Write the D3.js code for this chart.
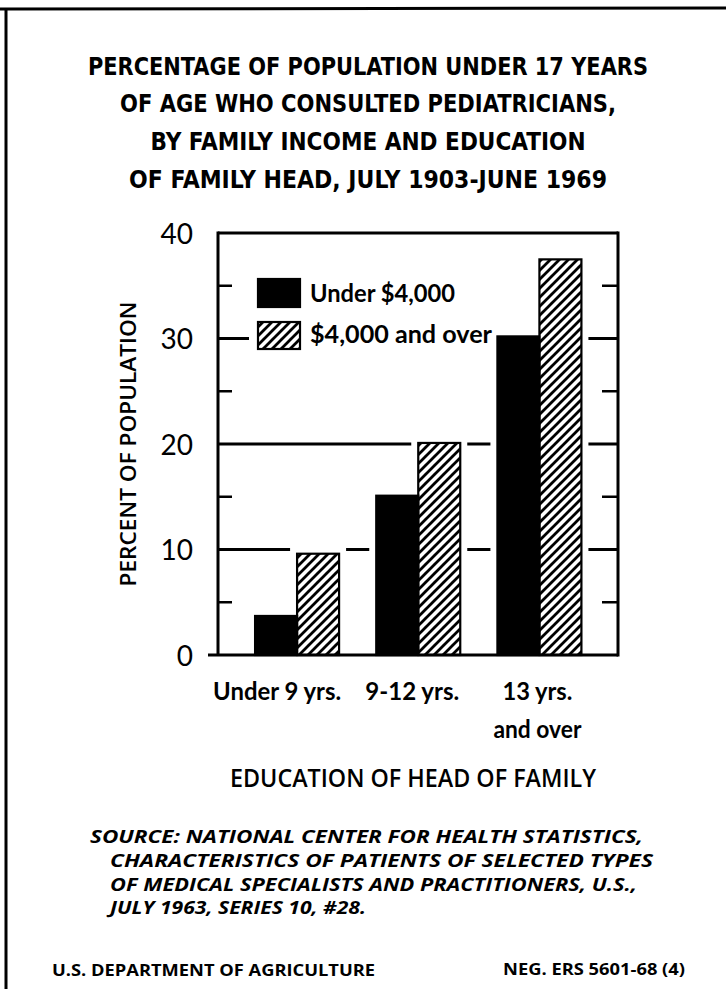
<!DOCTYPE html>
<html>
<head>
<meta charset="utf-8">
<script src="https://cdn.jsdelivr.net/npm/d3@7"></script>
<style>
  html, body { margin: 0; padding: 0; background: #fff; }
  svg { display: block; }
</style>
</head>
<body>
<script>
// ---------------- DATA ----------------
const categories = ["Under 9 yrs.", "9-12 yrs.", "13 yrs.|and over"];
const seriesNames = ["Under $4,000", "$4,000 and over"];
const under4000 = [3.7, 15.1, 30.2];
const over4000 = [9.6, 20.1, 37.5];
const majorTicks = [0, 10, 20, 30, 40];
const minorTicks = [5, 15, 25, 35];
const titleLines = [
  "PERCENTAGE OF POPULATION UNDER 17 YEARS",
  "OF AGE WHO CONSULTED PEDIATRICIANS,",
  "BY FAMILY INCOME AND EDUCATION",
  "OF FAMILY HEAD, JULY 1903-JUNE 1969"
];
const yAxisTitle = "PERCENT OF POPULATION";
const xAxisTitle = "EDUCATION OF HEAD OF FAMILY";
const sourceLines = [
  "SOURCE:  NATIONAL CENTER FOR HEALTH STATISTICS,",
  "CHARACTERISTICS OF PATIENTS OF SELECTED TYPES",
  "OF MEDICAL SPECIALISTS AND PRACTITIONERS, U.S.,",
  "JULY 1963, SERIES 10, #28."
];
const footerLeft = "U.S. DEPARTMENT OF AGRICULTURE";
const footerRight = "NEG. ERS 5601-68 (4)";

// ---------------- LAYOUT ----------------
const W = 726, H = 989;
const plot = { left: 218, right: 618, top: 233, bottom: 655 };

const svg = d3.select("body").append("svg")
  .attr("width", W).attr("height", H);

const defs = svg.append("defs");
defs.append("pattern")
  .attr("id", "hatch")
  .attr("patternUnits", "userSpaceOnUse")
  .attr("width", 9).attr("height", 9)
  .append("path")
  .attr("d", "M-2,2 l4,-4 M0,9 l9,-9 M7,11 l4,-4")
  .attr("stroke", "#000").attr("stroke-width", 2.8);

// page border (top and left)
svg.append("line").attr("x1", 0).attr("x2", W).attr("y1", 9).attr("y2", 8)
  .attr("stroke", "#000").attr("stroke-width", 3);
svg.append("line").attr("x1", 6).attr("x2", 6).attr("y1", 8).attr("y2", H)
  .attr("stroke", "#000").attr("stroke-width", 3);

// ---------------- TITLE ----------------
const titleWidths = [560, 496, 435, 478];
const titleBase = [75, 112, 150, 188];
svg.append("g").selectAll("text").data(titleLines).join("text")
  .attr("x", 368).attr("y", (d, i) => titleBase[i])
  .attr("text-anchor", "middle")
  .attr("font-family", "'DejaVu Sans Condensed', 'Liberation Sans Narrow', sans-serif")
  .attr("font-weight", "bold")
  .attr("font-size", 25)
  .attr("textLength", (d, i) => titleWidths[i])
  .attr("lengthAdjust", "spacingAndGlyphs")
  .text(d => d);

// ---------------- SCALES ----------------
const y = d3.scaleLinear().domain([0, 40]).range([plot.bottom, plot.top]);
const x0 = d3.scaleBand().domain(categories).range([236.5, 600]).paddingInner(0).paddingOuter(0);
const barW = 42;
const x1 = d3.scaleBand().domain(seriesNames).range([0, barW * 2]).padding(0);

const data = categories.map((c, i) => ({ cat: c, values: [
  { s: seriesNames[0], v: under4000[i] },
  { s: seriesNames[1], v: over4000[i] }
]}));

function groupX(c) { return x0(c) + x0.bandwidth() / 2 - barW; }

// ---------------- GRID LINES (broken around bars) ----------------
const gridG = svg.append("g");
gridG.selectAll("line").data([10, 20, 30]).join("line")
  .attr("x1", plot.left).attr("x2", plot.right)
  .attr("y1", d => y(d)).attr("y2", d => y(d))
  .attr("stroke", "#000").attr("stroke-width", 3);

// knock-outs
const pad = 7;
const ko = svg.append("g");
data.forEach(g => {
  g.values.forEach(b => {
    ko.append("rect")
      .attr("x", groupX(g.cat) + x1(b.s) - pad)
      .attr("y", y(b.v) - pad)
      .attr("width", x1.bandwidth() + pad * 2)
      .attr("height", plot.bottom - y(b.v) + pad)
      .attr("fill", "#fff");
  });
});
// legend knock-out
ko.append("rect").attr("x", 249).attr("y", 272).attr("width", 246).attr("height", 86).attr("fill", "#fff");

// ---------------- BARS ----------------
const barsG = svg.append("g");
data.forEach(g => {
  barsG.selectAll(null).data(g.values).join("rect")
    .attr("x", d => groupX(g.cat) + x1(d.s))
    .attr("y", d => y(d.v))
    .attr("width", x1.bandwidth())
    .attr("height", d => plot.bottom - y(d.v))
    .attr("fill", (d, i) => i === 0 ? "#000" : "url(#hatch)")
    .attr("stroke", "#000")
    .attr("stroke-width", 2.2);
});

// ---------------- AXES / FRAME ----------------
const axisG = svg.append("g").attr("stroke", "#000").attr("stroke-width", 3);
axisG.append("line").attr("x1", plot.left).attr("x2", plot.left).attr("y1", plot.top - 1.5).attr("y2", plot.bottom);
axisG.append("line").attr("x1", plot.right).attr("x2", plot.right).attr("y1", plot.top - 1.5).attr("y2", plot.bottom + 1.5);
axisG.append("line").attr("x1", plot.left).attr("x2", plot.right).attr("y1", plot.top).attr("y2", plot.top);
axisG.append("line").attr("x1", 208).attr("x2", plot.right).attr("y1", plot.bottom).attr("y2", plot.bottom);

// minor ticks inside
svg.append("g").selectAll("line.ml").data(minorTicks).join("line")
  .attr("x1", plot.left).attr("x2", plot.left + 14)
  .attr("y1", d => y(d)).attr("y2", d => y(d))
  .attr("stroke", "#000").attr("stroke-width", 2.5);
svg.append("g").selectAll("line.mr").data(minorTicks).join("line")
  .attr("x1", plot.right - 16).attr("x2", plot.right)
  .attr("y1", d => y(d)).attr("y2", d => y(d))
  .attr("stroke", "#000").attr("stroke-width", 2.5);

// tick labels using d3 axis
const yAxis = d3.axisLeft(y).tickValues(majorTicks).tickSize(0).tickPadding(0).tickFormat(d3.format("d"));
const yAxisG = svg.append("g").attr("transform", "translate(193,0)").call(yAxis);
yAxisG.select(".domain").remove();
yAxisG.selectAll("text")
  .attr("font-family", "Lato, 'Open Sans', sans-serif")
  .attr("font-size", 28)
  .attr("fill", "#000")
  .attr("dy", "0.36em");

// Y title
svg.append("text")
  .attr("transform", "translate(136,444) rotate(-90)")
  .attr("text-anchor", "middle")
  .attr("font-family", "'Open Sans', Lato, sans-serif")
  .attr("font-weight", 600)
  .attr("font-size", 22)
  .attr("textLength", 285)
  .attr("lengthAdjust", "spacingAndGlyphs")
  .text(yAxisTitle);

// ---------------- LEGEND ----------------
const legG = svg.append("g");
const legRows = [{ y: 279, h: 28, base: 302 }, { y: 322, h: 27, base: 343 }];
const legLens = [145, 182];
seriesNames.forEach((s, i) => {
  legG.append("rect")
    .attr("x", 258).attr("y", legRows[i].y)
    .attr("width", 42).attr("height", legRows[i].h)
    .attr("fill", i === 0 ? "#000" : "url(#hatch)")
    .attr("stroke", "#000").attr("stroke-width", 2.2);
  legG.append("text")
    .attr("x", 310).attr("y", legRows[i].base)
    .attr("font-family", "Lato, 'Open Sans', sans-serif")
    .attr("font-weight", "bold")
    .attr("font-size", 24)
    .attr("textLength", legLens[i])
    .attr("lengthAdjust", "spacingAndGlyphs")
    .text(s);
});

// ---------------- X LABELS ----------------
const xLabelDx = [-20, -6, -2];
const xLabelLens = [[128], [94], [70, 88]];
const xg = svg.append("g");
categories.forEach((c, i) => {
  const cx = x0(c) + x0.bandwidth() / 2 + xLabelDx[i];
  c.split("|").forEach((line, j) => {
    xg.append("text")
      .attr("x", cx).attr("y", 700 + j * 38)
      .attr("text-anchor", "middle")
      .attr("font-family", "Lato, 'Open Sans', sans-serif")
      .attr("font-weight", "bold")
      .attr("font-size", 24)
      .attr("textLength", xLabelLens[i][j])
      .attr("lengthAdjust", "spacingAndGlyphs")
      .text(line);
  });
});

// X title
svg.append("text")
  .attr("x", 413).attr("y", 787)
  .attr("text-anchor", "middle")
  .attr("font-family", "'Open Sans', Lato, sans-serif")
  .attr("font-weight", 600)
  .attr("font-size", 25)
  .attr("textLength", 366)
  .attr("lengthAdjust", "spacingAndGlyphs")
  .text(xAxisTitle);

// ---------------- SOURCE ----------------
const srcX = [90, 110, 110, 110];
const srcBase = [843, 867, 891, 914];
const srcLens = [553, 543, 527, 256];
svg.append("g").selectAll("text").data(sourceLines).join("text")
  .attr("x", (d, i) => srcX[i]).attr("y", (d, i) => srcBase[i])
  .attr("font-family", "'Open Sans', Lato, sans-serif")
  .attr("font-weight", "bold")
  .attr("font-style", "italic")
  .attr("font-size", 17)
  .attr("textLength", (d, i) => srcLens[i])
  .attr("lengthAdjust", "spacingAndGlyphs")
  .text(d => d);

// ---------------- FOOTER ----------------
svg.append("text").attr("x", 52).attr("y", 976)
  .attr("font-family", "'Open Sans', Lato, sans-serif").attr("font-weight", "bold")
  .attr("font-size", 16).attr("textLength", 323).attr("lengthAdjust", "spacingAndGlyphs")
  .text(footerLeft);
svg.append("text").attr("x", 503).attr("y", 975)
  .attr("font-family", "'Open Sans', Lato, sans-serif").attr("font-weight", "bold")
  .attr("font-size", 16).attr("textLength", 182).attr("lengthAdjust", "spacingAndGlyphs")
  .text(footerRight);
</script>
</body>
</html>
